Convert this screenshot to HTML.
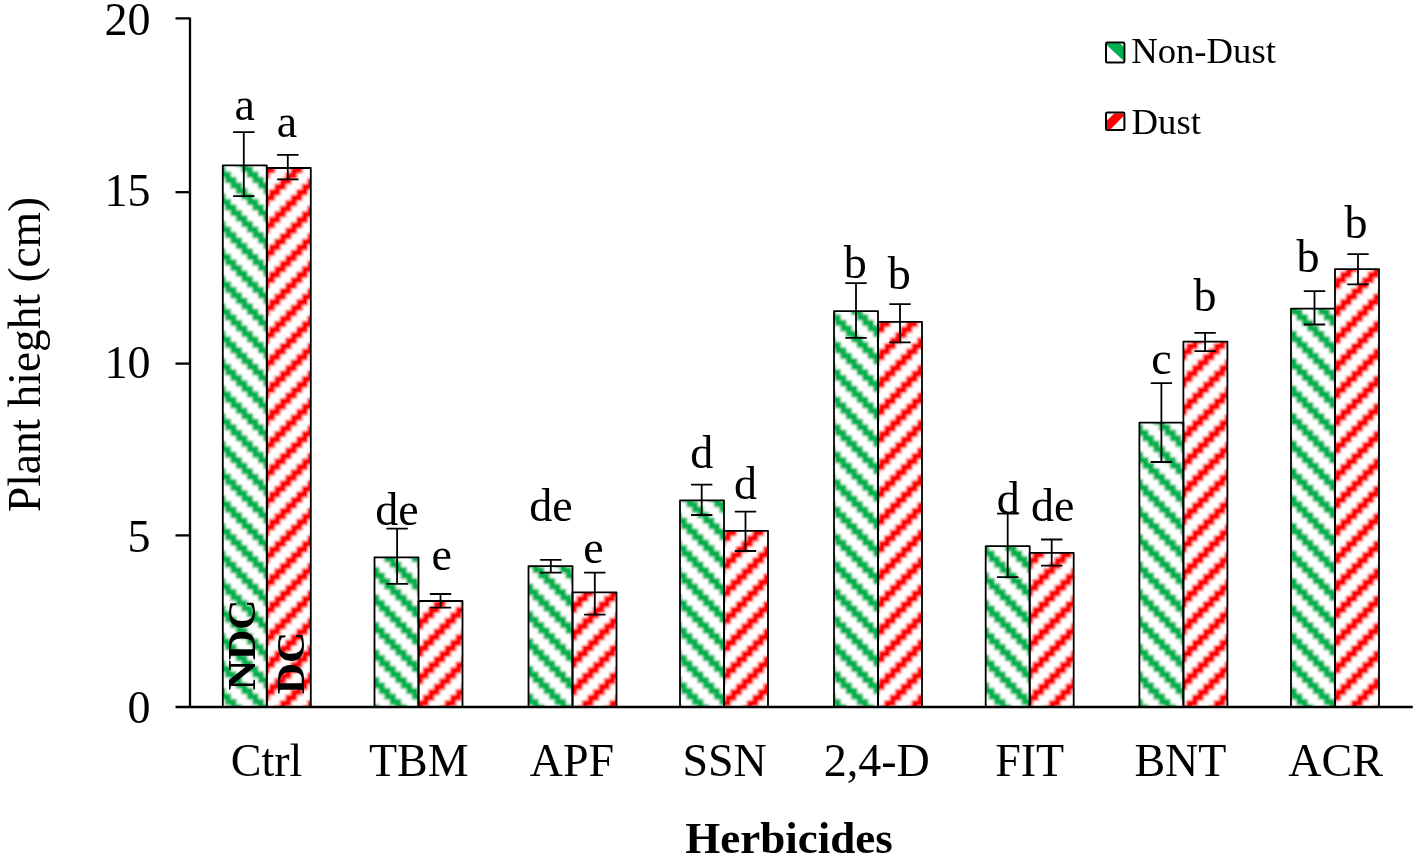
<!DOCTYPE html>
<html><head><meta charset="utf-8"><title>Plant height chart</title>
<style>
html,body{margin:0;padding:0;background:#fff;}
body{width:1416px;height:858px;overflow:hidden;}
svg{display:block;will-change:transform;}
text{font-family:"Liberation Serif",serif;fill:#000;font-kerning:none;}
.t{font-size:46px;}
.b{font-weight:bold;}
</style></head><body>
<svg width="1416" height="858" viewBox="0 0 1416 858">
<defs>
<pattern id="pg" patternUnits="userSpaceOnUse" x="0" y="7.0" width="27.47" height="27.47"><rect width="27.47" height="27.47" fill="#fff"/><rect x="-5.794" y="-5.794" width="11.588" height="6.094" fill="#00B050"/><rect x="21.676" y="-5.794" width="11.588" height="6.094" fill="#00B050"/><rect x="-0.300" y="-0.300" width="11.588" height="6.094" fill="#00B050"/><rect x="27.170" y="-0.300" width="11.588" height="6.094" fill="#00B050"/><rect x="5.194" y="5.194" width="11.588" height="6.094" fill="#00B050"/><rect x="10.688" y="10.688" width="11.588" height="6.094" fill="#00B050"/><rect x="-11.288" y="16.182" width="11.588" height="6.094" fill="#00B050"/><rect x="16.182" y="16.182" width="11.588" height="6.094" fill="#00B050"/><rect x="-5.794" y="21.676" width="11.588" height="6.094" fill="#00B050"/><rect x="21.676" y="21.676" width="11.588" height="6.094" fill="#00B050"/><rect x="-0.300" y="27.170" width="11.588" height="6.094" fill="#00B050"/><rect x="27.170" y="27.170" width="11.588" height="6.094" fill="#00B050"/></pattern>
<pattern id="pr" patternUnits="userSpaceOnUse" x="0" y="19.23" width="27.47" height="27.47"><rect width="27.47" height="27.47" fill="#fff"/><rect x="5.194" y="-5.794" width="11.588" height="6.094" fill="#FF0000"/><rect x="-0.300" y="-0.300" width="11.588" height="6.094" fill="#FF0000"/><rect x="27.170" y="-0.300" width="11.588" height="6.094" fill="#FF0000"/><rect x="-5.794" y="5.194" width="11.588" height="6.094" fill="#FF0000"/><rect x="21.676" y="5.194" width="11.588" height="6.094" fill="#FF0000"/><rect x="-11.288" y="10.688" width="11.588" height="6.094" fill="#FF0000"/><rect x="16.182" y="10.688" width="11.588" height="6.094" fill="#FF0000"/><rect x="10.688" y="16.182" width="11.588" height="6.094" fill="#FF0000"/><rect x="5.194" y="21.676" width="11.588" height="6.094" fill="#FF0000"/><rect x="-0.300" y="27.170" width="11.588" height="6.094" fill="#FF0000"/><rect x="27.170" y="27.170" width="11.588" height="6.094" fill="#FF0000"/></pattern>
<filter id="bl" x="-5%" y="-5%" width="110%" height="110%"><feGaussianBlur stdDeviation="1.15"/></filter>
</defs>
<rect width="1416" height="858" fill="#fff"/>

<clipPath id="cg">
<rect x="222.80" y="165.30" width="44.00" height="541.70"/>
<rect x="374.50" y="557.40" width="44.00" height="149.60"/>
<rect x="528.50" y="566.10" width="44.00" height="140.90"/>
<rect x="680.00" y="500.40" width="44.00" height="206.60"/>
<rect x="834.00" y="311.10" width="44.00" height="395.90"/>
<rect x="985.70" y="546.20" width="44.00" height="160.80"/>
<rect x="1139.40" y="422.60" width="44.00" height="284.40"/>
<rect x="1291.00" y="308.70" width="44.00" height="398.30"/>
</clipPath><clipPath id="cr">
<rect x="266.80" y="168.00" width="44.00" height="539.00"/>
<rect x="418.50" y="601.00" width="44.00" height="106.00"/>
<rect x="572.50" y="592.30" width="44.00" height="114.70"/>
<rect x="724.00" y="530.80" width="44.00" height="176.20"/>
<rect x="878.00" y="321.90" width="44.00" height="385.10"/>
<rect x="1029.70" y="552.80" width="44.00" height="154.20"/>
<rect x="1183.40" y="341.60" width="44.00" height="365.40"/>
<rect x="1335.00" y="269.10" width="44.00" height="437.90"/>
</clipPath>
<g clip-path="url(#cg)"><rect filter="url(#bl)" x="150" y="100" width="1300" height="640" fill="url(#pg)"/></g>
<g clip-path="url(#cr)"><rect filter="url(#bl)" x="150" y="100" width="1300" height="640" fill="url(#pr)"/></g>
<g fill="none" stroke="#000" stroke-width="1.8" stroke-linejoin="round">
<rect x="222.80" y="165.30" width="44.00" height="541.70"/>
<rect x="266.80" y="168.00" width="44.00" height="539.00"/>
<rect x="374.50" y="557.40" width="44.00" height="149.60"/>
<rect x="418.50" y="601.00" width="44.00" height="106.00"/>
<rect x="528.50" y="566.10" width="44.00" height="140.90"/>
<rect x="572.50" y="592.30" width="44.00" height="114.70"/>
<rect x="680.00" y="500.40" width="44.00" height="206.60"/>
<rect x="724.00" y="530.80" width="44.00" height="176.20"/>
<rect x="834.00" y="311.10" width="44.00" height="395.90"/>
<rect x="878.00" y="321.90" width="44.00" height="385.10"/>
<rect x="985.70" y="546.20" width="44.00" height="160.80"/>
<rect x="1029.70" y="552.80" width="44.00" height="154.20"/>
<rect x="1139.40" y="422.60" width="44.00" height="284.40"/>
<rect x="1183.40" y="341.60" width="44.00" height="365.40"/>
<rect x="1291.00" y="308.70" width="44.00" height="398.30"/>
<rect x="1335.00" y="269.10" width="44.00" height="437.90"/>
</g>
<g stroke="#000" stroke-width="2.3" fill="none" stroke-linejoin="round">
<path d="M175.5 18.4H190.0V707.0"/>
<line x1="175.5" y1="707.0" x2="1412.8" y2="707.0"/>
<line x1="175.5" y1="535.40" x2="190.0" y2="535.40"/>
<line x1="175.5" y1="363.60" x2="190.0" y2="363.60"/>
<line x1="175.5" y1="192.20" x2="190.0" y2="192.20"/>
</g>
<g stroke="#000" stroke-width="1.8" fill="none">
<path d="M233.10 132.20H254.50M243.80 132.20V196.20M233.10 196.20H254.50"/>
<path d="M277.10 154.80H298.50M287.80 154.80V179.40M277.10 179.40H298.50"/>
<path d="M386.40 528.70H407.80M397.10 528.70V583.80M386.40 583.80H407.80"/>
<path d="M429.80 594.00H451.20M440.50 594.00V607.60M429.80 607.60H451.20"/>
<path d="M540.10 559.80H561.50M550.80 559.80V572.60M540.10 572.60H561.50"/>
<path d="M584.10 572.70H605.50M594.80 572.70V614.60M584.10 614.60H605.50"/>
<path d="M691.00 484.70H712.40M701.70 484.70V515.00M691.00 515.00H712.40"/>
<path d="M734.80 511.60H756.20M745.50 511.60V551.00M734.80 551.00H756.20"/>
<path d="M845.30 283.10H866.70M856.00 283.10V337.90M845.30 337.90H866.70"/>
<path d="M889.30 304.10H910.70M900.00 304.10V342.40M889.30 342.40H910.70"/>
<path d="M997.00 513.70H1018.40M1007.70 513.70V577.20M997.00 577.20H1018.40"/>
<path d="M1041.00 539.50H1062.40M1051.70 539.50V565.60M1041.00 565.60H1062.40"/>
<path d="M1150.70 383.10H1172.10M1161.40 383.10V462.00M1150.70 462.00H1172.10"/>
<path d="M1194.40 332.80H1215.80M1205.10 332.80V351.20M1194.40 351.20H1215.80"/>
<path d="M1303.80 291.20H1325.20M1314.50 291.20V324.50M1303.80 324.50H1325.20"/>
<path d="M1347.30 254.20H1368.70M1358.00 254.20V284.40M1347.30 284.40H1368.70"/>
</g>
<text class="t" x="150.6" y="723.20" text-anchor="end">0</text>
<text class="t" x="150.6" y="551.80" text-anchor="end">5</text>
<text class="t" x="150.6" y="378.00" text-anchor="end">10</text>
<text class="t" x="150.6" y="206.30" text-anchor="end">15</text>
<text class="t" x="150.6" y="34.80" text-anchor="end">20</text>
<text class="t" x="266.60" y="776.1" text-anchor="middle">Ctrl</text>
<text class="t" x="418.80" y="776.1" text-anchor="middle">TBM</text>
<text class="t" x="572.00" y="776.1" text-anchor="middle">APF</text>
<text class="t" x="724.60" y="776.1" text-anchor="middle">SSN</text>
<text class="t" x="876.70" y="776.1" text-anchor="middle">2,4-D</text>
<text class="t" x="1029.70" y="776.1" text-anchor="middle">FIT</text>
<text class="t" x="1180.40" y="776.1" text-anchor="middle">BNT</text>
<text class="t" x="1335.60" y="776.1" text-anchor="middle">ACR</text>
<text class="t" x="244.80" y="120.20" text-anchor="middle">a</text>
<text class="t" x="287.00" y="136.60" text-anchor="middle">a</text>
<text class="t" x="396.90" y="525.30" text-anchor="middle">de</text>
<text class="t" x="441.80" y="569.70" text-anchor="middle">e</text>
<text class="t" x="551.00" y="520.80" text-anchor="middle">de</text>
<text class="t" x="593.40" y="562.80" text-anchor="middle">e</text>
<text class="t" x="701.80" y="468.20" text-anchor="middle">d</text>
<text class="t" x="745.60" y="498.60" text-anchor="middle">d</text>
<text class="t" x="855.30" y="278.30" text-anchor="middle">b</text>
<text class="t" x="899.30" y="289.40" text-anchor="middle">b</text>
<text class="t" x="1008.20" y="514.30" text-anchor="middle">d</text>
<text class="t" x="1052.70" y="521.00" text-anchor="middle">de</text>
<text class="t" x="1161.40" y="373.80" text-anchor="middle">c</text>
<text class="t" x="1204.90" y="311.20" text-anchor="middle">b</text>
<text class="t" x="1307.90" y="272.00" text-anchor="middle">b</text>
<text class="t" x="1355.90" y="237.70" text-anchor="middle">b</text>
<text class="b" font-size="45" x="789" y="853.3" text-anchor="middle">Herbicides</text>
<text font-size="45.4" transform="translate(39.5 354.5) rotate(-90)" text-anchor="middle">Plant hieght (cm)</text>
<text class="b" font-size="39.5" transform="translate(254.9 690.2) rotate(-90) scale(1.06 1)">NDC</text>
<text class="b" font-size="39.5" transform="translate(303.9 694.3) rotate(-90) scale(1.10 1)">DC</text>
<g><rect x="1106.0" y="42.6" width="18.4" height="19.9" rx="1.2" fill="#fff"/><path d="M1106.6 45 L1106.6 43.2 L1120 43.2 L1123.6 46.8 L1123.6 60.7 Z" fill="#00B050"/><rect x="1106.0" y="42.6" width="18.4" height="19.9" rx="1.2" fill="none" stroke="#000" stroke-width="2"/></g>
<g><rect x="1106.0" y="112.6" width="18.4" height="17.4" rx="1.2" fill="#fff"/><path d="M1107 129.2 L1107 120.6 L1114.2 113.6 L1123.4 113.6 L1123.4 116.2 L1110.6 129.2 Z" fill="#FF0000"/><rect x="1106.0" y="112.6" width="18.4" height="17.4" rx="1.2" fill="none" stroke="#000" stroke-width="2"/></g>
<text font-size="36.7" x="1131.2" y="63.4">Non-Dust</text>
<text font-size="36.7" x="1131.6" y="133.8">Dust</text>
</svg></body></html>
